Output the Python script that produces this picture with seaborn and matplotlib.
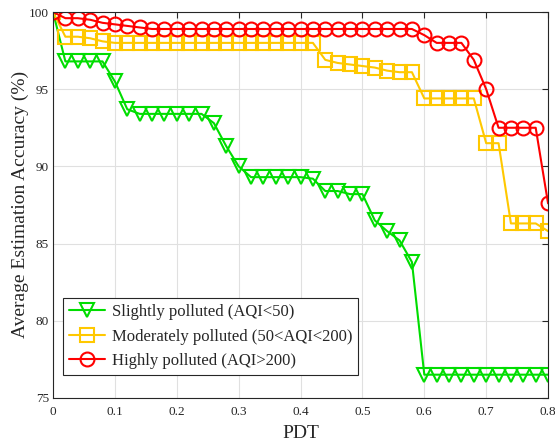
import numpy as np
import pandas as pd
import seaborn as sns
import matplotlib
matplotlib.use("Agg")
import matplotlib.pyplot as plt

# PDT thresholds, 0 to 0.8 in steps of 0.02
pdt = [round(0.02 * i, 2) for i in range(41)]

slightly = [100.0, 96.8, 96.8, 96.8, 96.8, 95.5, 93.7, 93.4, 93.4, 93.4,
            93.4, 93.4, 93.4, 92.8, 91.3, 90.0, 89.3, 89.3, 89.3, 89.3,
            89.3, 89.2, 88.4, 88.4, 88.2, 88.2, 86.5, 85.8, 85.2, 83.8,
            76.5, 76.5, 76.5, 76.5, 76.5, 76.5, 76.5, 76.5, 76.5, 76.5, 76.5]
moderately = [100.0, 98.4, 98.4, 98.3, 98.1, 98.0, 98.0, 98.0, 98.0, 98.0,
              98.0, 98.0, 98.0, 98.0, 98.0, 98.0, 98.0, 98.0, 98.0, 98.0,
              98.0, 98.0, 96.9, 96.7, 96.6, 96.5, 96.4, 96.2, 96.1, 96.1,
              94.4, 94.4, 94.4, 94.4, 94.4, 91.5, 91.5, 86.3, 86.3, 86.3, 85.8]
highly = [100.0, 99.6, 99.6, 99.5, 99.3, 99.2, 99.1, 99.0, 98.9, 98.9,
          98.9, 98.9, 98.9, 98.9, 98.9, 98.9, 98.9, 98.9, 98.9, 98.9,
          98.9, 98.9, 98.9, 98.9, 98.9, 98.9, 98.9, 98.9, 98.9, 98.9,
          98.5, 98.0, 98.0, 98.0, 96.9, 95.0, 92.5, 92.5, 92.5, 92.5, 87.6]

labels = ["Slightly polluted (AQI<50)",
          "Moderately polluted (50<AQI<200)",
          "Highly polluted (AQI>200)"]
colors = ["#00DD00", "#FFC800", "#FF0000"]
markers = ["v", "s", "o"]

sns.set_style("white")
plt.rcParams["font.family"] = ["Liberation Serif", "DejaVu Serif"]

fig = plt.figure(figsize=(5.55, 4.45), dpi=100)
ax = fig.add_axes([0.0955, 0.106, 0.892, 0.867])

for vals, lab, c, m in zip([slightly, moderately, highly], labels, colors, markers):
    df = pd.DataFrame({"PDT": pdt, "acc": vals})
    sns.lineplot(data=df, x="PDT", y="acc", ax=ax, color=c, marker=m,
                 markersize=10, markerfacecolor="none", markeredgecolor=c,
                 markeredgewidth=1.5, linewidth=1.5, label=lab)

ax.set_xlim(0, 0.8)
ax.set_ylim(75, 100)
ax.set_xticks(np.arange(0, 0.81, 0.1))
ax.set_xticklabels(["0", "0.1", "0.2", "0.3", "0.4", "0.5", "0.6", "0.7", "0.8"])
ax.set_yticks([75, 80, 85, 90, 95, 100])
ax.grid(True, color="#e0e0e0", linewidth=0.8)
ax.tick_params(direction="in", top=True, right=True, length=4, width=0.8,
               labelsize=9.5, colors="#262626")
ax.tick_params(axis="y", pad=3)
ax.tick_params(axis="x", pad=6)
for s in ax.spines.values():
    s.set_color("#262626")
    s.set_linewidth(0.8)
    s.set_visible(True)

ax.set_xlabel("PDT", fontsize=14)
ax.set_ylabel("Average Estimation Accuracy (%)", fontsize=14)
ax.xaxis.set_label_coords(0.5, -0.07)
ax.yaxis.set_label_coords(-0.048, 0.5)

leg = ax.legend(loc="lower left", bbox_to_anchor=(0.02, 0.06), borderaxespad=0,
                fontsize=12, frameon=True, fancybox=False, edgecolor="#262626",
                handlelength=2.2, handletextpad=0.4, labelspacing=0.5,
                borderpad=0.35)
leg.get_frame().set_linewidth(0.8)
leg.get_frame().set_alpha(1)

fig.savefig("out.png", dpi=100)
